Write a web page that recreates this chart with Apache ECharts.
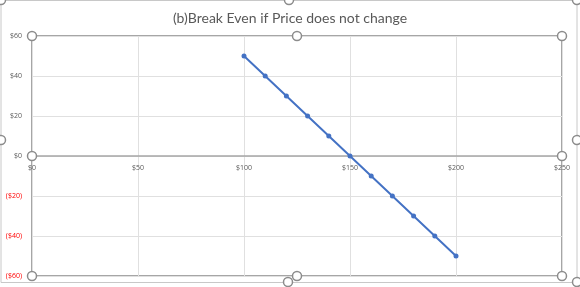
<!DOCTYPE html>
<html><head><meta charset="utf-8">
<script src="https://cdn.jsdelivr.net/npm/echarts@6/dist/echarts.min.js"></script>
<style>html,body{margin:0;padding:0;background:#fff}#c{width:580px;height:287px}</style>
</head><body><div id="c"></div>
<script>
const title = "(b)Break Even if Price does not change";
const prices = [100, 110, 120, 130, 140, 150, 160, 170, 180, 190, 200];
const profit = [50, 40, 30, 20, 10, 0, -10, -20, -30, -40, -50];
const xTicks = [0, 50, 100, 150, 200, 250];
const yTicks = [-60, -40, -20, 0, 20, 40, 60];

const G = {left: 32, right: 18, top: 36, bottom: 11};
const W = 580, H = 287;
const px0 = G.left, px1 = W - G.right, py0 = G.top, py1 = H - G.bottom;
const pmx = (px0 + px1) / 2, pmy = (py0 + py1) / 2;

function handle(x, y) {
  return {type: 'circle', shape: {cx: x, cy: y, r: 4.5}, z: 100,
    style: {fill: '#fff', stroke: '#8c8c8c', lineWidth: 1.5}};
}
const handles = [
  [px0, py0], [pmx, py0], [px1, py0], [px0, pmy], [px1, pmy], [px0, py1], [pmx, py1], [px1, py1],
  [1, 0], [289, 0], [577, 0], [1, 140], [577, 140], [288, 282], [577, 282]
].map(p => handle(p[0], p[1]));

const money = v => v < 0 ? '($' + Math.abs(v) + ')' : '$' + v;

const chart = echarts.init(document.getElementById('c'), null, {renderer: 'canvas'});
chart.setOption({
  animation: false,
  title: {text: title, left: 'center', top: 6,
    textStyle: {fontFamily: 'Lato', fontSize: 14, fontWeight: 'normal', color: '#595959'}},
  grid: {left: G.left, right: G.right, top: G.top, bottom: G.bottom, show: true,
    borderColor: '#a6a6a6', borderWidth: 2, containLabel: false},
  xAxis: {type: 'value', min: xTicks[0], max: xTicks[xTicks.length - 1], interval: 50,
    position: 'bottom', offset: -(py1 - py0) / 2,
    axisLine: {onZero: false, lineStyle: {color: '#a6a6a6', width: 1.5}},
    axisTick: {show: false},
    axisLabel: {formatter: money, fontSize: 7, color: '#595959', margin: 8, fontFamily: 'Open Sans'},
    splitLine: {lineStyle: {color: '#e0e0e0', width: 1}}},
  yAxis: {type: 'value', min: yTicks[0], max: yTicks[yTicks.length - 1], interval: 20,
    axisLine: {show: false}, axisTick: {show: false},
    axisLabel: {formatter: money, fontSize: 7, margin: 10, fontFamily: 'Open Sans',
      color: v => (v < 0 ? '#ff0000' : '#595959')},
    splitLine: {lineStyle: {color: '#e0e0e0', width: 1}}},
  series: [{type: 'line', data: prices.map((p, i) => [p, profit[i]]),
    symbol: 'circle', symbolSize: 5,
    lineStyle: {color: '#4472c4', width: 2}, itemStyle: {color: '#4472c4'}}],
  graphic: [
    {type: 'rect', shape: {x: 1, y: 0.5, width: 576, height: 282}, z: 90, silent: true,
      style: {fill: 'none', stroke: '#c8c8c8', lineWidth: 1}},
    ...handles
  ]
});
</script></body></html>
